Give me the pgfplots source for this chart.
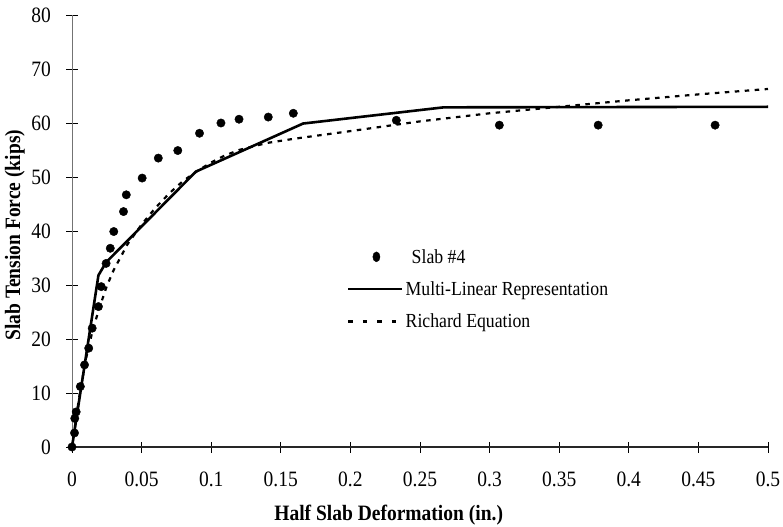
\documentclass[border=0pt]{standalone}
\usepackage{pgfplots}
\pgfplotsset{compat=1.18}
\usepackage{fontspec}
\setmainfont{Liberation Serif}[FakeStretch=0.89]

% measured slab response
\pgfplotstableread{
x y
0 0
0.0018 2.6
0.0020 5.3
0.0030 6.5
0.006 11.2
0.009 15.2
0.012 18.3
0.0145 22.0
0.019 26.0
0.021 29.7
0.0245 34.0
0.0275 36.8
0.030 39.9
0.037 43.6
0.039 46.7
0.0504 49.8
0.062 53.5
0.076 54.9
0.0916 58.1
0.107 60.0
0.120 60.7
0.141 61.1
0.159 61.8
0.233 60.5
0.307 59.6
0.378 59.6
0.462 59.6
}\slabdata

% multi-linear model
\pgfplotstableread{
x y
0 0
0.019 31.8
0.0245 34.2
0.089 51.0
0.166 59.9
0.267 62.9
0.500 63.0
}\multilinear

% Richard equation curve
\pgfplotstableread{
x y
0 0
0.005 9.0
0.010 16.3
0.015 21.8
0.020 26.0
0.025 29.8
0.030 32.8
0.040 37.6
0.050 41.2
0.060 44.3
0.070 47.0
0.080 49.3
0.090 51.1
0.100 52.7
0.110 54.0
0.120 55.0
0.140 56.3
0.160 57.1
0.180 57.8
0.200 58.5
0.250 60.3
0.300 61.8
0.350 63.0
0.400 64.2
0.450 65.3
0.500 66.3
}\richard

\begin{document}
\begin{tikzpicture}[x=1bp,y=1bp]
\begin{axis}[
  at={(0,0)}, anchor=south west,
  scale only axis, width=696bp, height=432bp,
  xmin=0, xmax=0.5, ymin=0, ymax=80,
  axis lines=left,
  x axis line style={-, line width=1.3bp, black!85},
  y axis line style={-, line width=0.8bp, black!55},
  tick align=center, major tick length=11bp,
  tick style={black, line width=0.8bp},
  xtick={0,0.05,0.1,0.15,0.2,0.25,0.3,0.35,0.4,0.45,0.5},
  xticklabels={0,0.05,0.1,0.15,0.2,0.25,0.3,0.35,0.4,0.45,0.5},
  ytick={0,10,20,30,40,50,60,70,80},
  /pgf/number format/assume math mode=true,
  tick label style={font=\fontsize{22}{24}\selectfont},
  xticklabel style={yshift=-16bp},
  yticklabel style={xshift=-12bp},
  xlabel={\bfseries Half Slab Deformation (in.)},
  ylabel={\bfseries Slab Tension Force (kips)},
  label style={font=\fontsize{22}{24}\selectfont},
  xlabel style={at={(axis description cs:0.455,-0.158)}, anchor=center},
  ylabel style={at={(axis description cs:-0.082,0.49)}, anchor=center},
  legend style={draw=none, fill=none, at={(axis description cs:0.395,0.463)},
    anchor=north west, font=\fontsize{20}{22}\selectfont,
    row sep=13bp, inner sep=0pt,
    /tikz/every even column/.append style={column sep=0bp}},
  legend cell align=left,
  clip=false,
]
\addplot[only marks, mark=*, mark size=4.2bp, black,
  legend image code/.code={\fill[black] (28bp,0bp) ellipse (3.6bp and 5bp);}]
  table[x=x,y=y] {\slabdata};
\addlegendentry{\hspace{6bp}Slab \#4}
\addplot[black, line width=2.6bp,
  legend image code/.code={\draw[black, line width=2.6bp] (0bp,0bp) -- (54bp,0bp);}]
  table[x=x,y=y] {\multilinear};
\addlegendentry{Multi-Linear Representation}
\addplot[black, line width=2.2bp, dash pattern=on 4.5bp off 5.5bp,
  legend image code/.code={\draw[black, line width=2.2bp, dash pattern=on 4.5bp off 10bp] (0bp,0bp) -- (54bp,0bp);}]
  table[x=x,y=y] {\richard};
\addlegendentry{Richard Equation}
\end{axis}
\pgfresetboundingbox
\path[use as bounding box] (-72bp,-80bp) rectangle (711bp,447bp);
\end{tikzpicture}
\end{document}
